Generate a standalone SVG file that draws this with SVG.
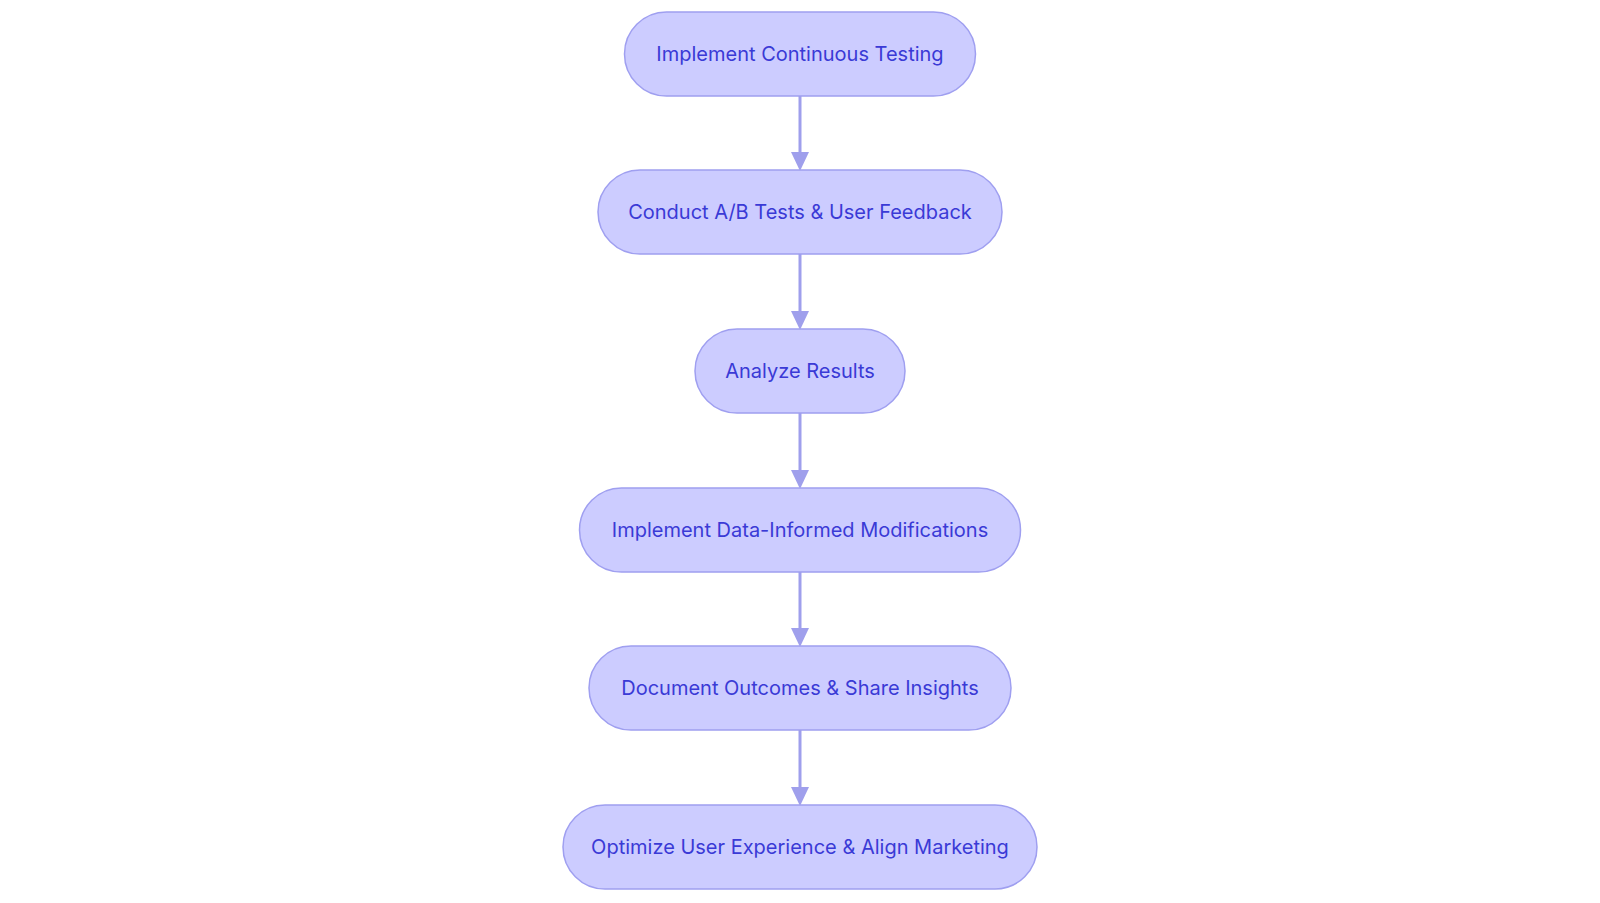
<svg xmlns="http://www.w3.org/2000/svg" width="1600" height="903" viewBox="0 0 1600 903">
<style>
.n rect{fill:#ccccff;stroke:#9f9ff0;stroke-width:1.5}
.n text{font-family:Inter,"Noto Sans",sans-serif;font-size:20px;fill:#3a3ad6;text-anchor:middle;dominant-baseline:central}
.e line{stroke:#9f9fec;stroke-width:3}
.e path{fill:#9f9fec}
</style>
<rect width="1600" height="903" fill="#fff"/>
<g class="e">
<line x1="800" y1="96" x2="800" y2="155"/><path d="M791,152L809,152L800,171z"/>
<line x1="800" y1="254" x2="800" y2="314"/><path d="M791,311L809,311L800,330z"/>
<line x1="800" y1="413" x2="800" y2="473"/><path d="M791,470L809,470L800,489z"/>
<line x1="800" y1="572" x2="800" y2="631"/><path d="M791,628L809,628L800,647z"/>
<line x1="800" y1="730" x2="800" y2="790"/><path d="M791,787L809,787L800,806z"/>
</g>
<g id="n1" class="n"><rect x="624.5" y="12" width="351" height="84" rx="42"/><text x="800" y="54">Implement Continuous Testing</text></g>
<g id="n2" class="n"><rect x="598" y="170" width="404" height="84" rx="42"/><text x="800" y="212">Conduct A/B Tests &amp; User Feedback</text></g>
<g id="n3" class="n"><rect x="695" y="329" width="210" height="84" rx="42"/><text x="800" y="371">Analyze Results</text></g>
<g id="n4" class="n"><rect x="579.5" y="488" width="441" height="84" rx="42"/><text x="800" y="530">Implement Data-Informed Modifications</text></g>
<g id="n5" class="n"><rect x="589" y="646" width="422" height="84" rx="42"/><text x="800" y="688">Document Outcomes &amp; Share Insights</text></g>
<g id="n6" class="n"><rect x="563" y="805" width="474" height="84" rx="42"/><text x="800" y="847">Optimize User Experience &amp; Align Marketing</text></g>
</svg>
